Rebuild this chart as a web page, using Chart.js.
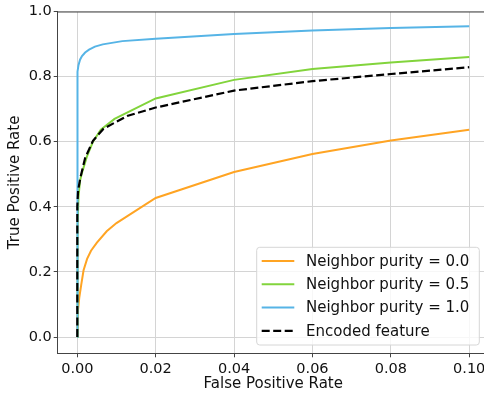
<!DOCTYPE html>
<html>
<head>
<meta charset="utf-8">
<script src="https://cdn.jsdelivr.net/npm/chart.js@4/dist/chart.umd.min.js"></script>
<style>
  html, body { margin: 0; padding: 0; background: #fff; overflow: hidden; }
</style>
</head>
<body>
<canvas id="roc" width="490" height="394"></canvas>
<script>
// ROC curves
const seriesLabels = ["Neighbor purity = 0.0", "Neighbor purity = 0.5", "Neighbor purity = 1.0", "Encoded feature"];

const purity0Fpr = [0, 0.0001, 0.0002, 0.0005, 0.001, 0.0016, 0.0025, 0.0035, 0.005, 0.0075, 0.01, 0.02, 0.04, 0.06, 0.08, 0.10];
const purity0Tpr = [0, 0.06, 0.085, 0.12, 0.16, 0.205, 0.24, 0.265, 0.29, 0.325, 0.35, 0.427, 0.507, 0.562, 0.604, 0.637];

const purity05Fpr = [0, 0.00005, 0.0001, 0.0003, 0.0007, 0.0012, 0.0025, 0.004, 0.006, 0.0095, 0.02, 0.04, 0.06, 0.08, 0.10];
const purity05Tpr = [0, 0.25, 0.34, 0.43, 0.48, 0.505, 0.556, 0.60, 0.637, 0.67, 0.733, 0.79, 0.823, 0.843, 0.86];

const purity1Fpr = [0, 0, 0.0001, 0.0003, 0.0007, 0.0012, 0.002, 0.003, 0.0045, 0.0065, 0.0115, 0.02, 0.04, 0.06, 0.08, 0.10];
const purity1Tpr = [0, 0.78, 0.815, 0.835, 0.852, 0.863, 0.874, 0.883, 0.892, 0.899, 0.909, 0.916, 0.931, 0.942, 0.949, 0.955];

const encodedFpr = [0, 0, 0.0002, 0.0008, 0.002, 0.004, 0.0067, 0.0127, 0.02, 0.04, 0.06, 0.08, 0.10];
const encodedTpr = [0, 0.40, 0.45, 0.49, 0.55, 0.603, 0.64, 0.679, 0.705, 0.757, 0.786, 0.808, 0.829];

const xTicks = [0, 0.02, 0.04, 0.06, 0.08, 0.10];
const yTicks = [0, 0.2, 0.4, 0.6, 0.8, 1.0];

function pts(xs, ys) {
  return xs.map((x, i) => ({x: x, y: ys[i]}));
}

const FONT = "'DejaVu Sans', sans-serif";

// legend box drawn inside the plot, bottom right, like matplotlib
const boxLegend = {
  id: 'boxLegend',
  afterDatasetsDraw(chart) {
    const ctx = chart.ctx;
    const area = chart.chartArea;
    const right = area.right - 9.5, bottom = area.bottom - 8.3;
    const left = right - 222.6, top = bottom - 97.7;
    ctx.save();
    ctx.beginPath();
    ctx.roundRect(left, top, right - left, bottom - top, 3);
    ctx.fillStyle = 'rgba(255,255,255,0.8)';
    ctx.fill();
    ctx.strokeStyle = '#d6d6d6';
    ctx.lineWidth = 1;
    ctx.stroke();
    ctx.font = '15px ' + FONT;
    ctx.textBaseline = 'middle';
    chart.data.datasets.forEach((ds, i) => {
      const y = top + 13.7 + i * 23.3;
      ctx.beginPath();
      ctx.setLineDash(ds.borderDash || []);
      ctx.strokeStyle = ds.borderColor;
      ctx.lineWidth = ds.borderWidth;
      ctx.moveTo(left + 5, y);
      ctx.lineTo(left + 37.6, y);
      ctx.stroke();
      ctx.setLineDash([]);
      ctx.fillStyle = '#111';
      ctx.fillText(ds.label, left + 49.3, y + 1);
    });
    ctx.restore();
  },
  afterDraw(chart) {
    // top spine
    const ctx = chart.ctx, a = chart.chartArea;
    ctx.save();
    ctx.strokeStyle = '#444';
    ctx.lineWidth = 1;
    ctx.beginPath();
    ctx.moveTo(a.left, a.top + 0.5);
    ctx.lineTo(a.right, a.top + 0.5);
    ctx.stroke();
    ctx.restore();
  }
};

new Chart(document.getElementById("roc"), {
  type: 'scatter',
  data: {
    datasets: [
      { label: seriesLabels[0], data: pts(purity0Fpr, purity0Tpr), borderColor: "#ffa423", borderWidth: 2, order: 3 },
      { label: seriesLabels[1], data: pts(purity05Fpr, purity05Tpr), borderColor: "#82d43c", borderWidth: 2, order: 2 },
      { label: seriesLabels[2], data: pts(purity1Fpr, purity1Tpr), borderColor: "#56b4e6", borderWidth: 2, order: 1 },
      { label: seriesLabels[3], data: pts(encodedFpr, encodedTpr), borderColor: "#000000", borderWidth: 2.2, borderDash: [8, 3.5], order: 0 }
    ].map(d => Object.assign(d, { showLine: true, pointRadius: 0, tension: 0, fill: false }))
  },
  options: {
    responsive: false,
    animation: false,
    layout: { padding: { top: 11.5, right: 1.2, left: 0, bottom: 0 } },
    plugins: {
      legend: { display: false },
      tooltip: { enabled: false }
    },
    scales: {
      x: {
        type: 'linear',
        min: -0.005,
        max: 0.105,
        afterBuildTicks: s => { s.ticks = xTicks.map(v => ({value: v})); },
        afterFit: s => { s.height = 40.7; },
        ticks: {
          callback: v => v.toFixed(2),
          font: { family: FONT, size: 14.5 },
          color: '#111',
          padding: 3,
          maxRotation: 0
        },
        grid: { color: '#d4d4d4', lineWidth: 1, tickLength: 4, tickColor: '#444' },
        border: { color: '#444', width: 1 },
        title: {
          display: true,
          text: 'False Positive Rate',
          font: { family: FONT, size: 15 },
          color: '#111',
          padding: { top: 0, bottom: 0.5 }
        }
      },
      y: {
        type: 'linear',
        min: -0.05,
        max: 1.0,
        afterBuildTicks: s => { s.ticks = yTicks.map(v => ({value: v})); },
        afterFit: s => { s.width = 57.7; },
        ticks: {
          callback: v => v.toFixed(1),
          font: { family: FONT, size: 14.5 },
          color: '#111',
          padding: 2
        },
        grid: { color: '#d4d4d4', lineWidth: 1, tickLength: 4, tickColor: '#444' },
        border: { color: '#444', width: 1 },
        title: {
          display: true,
          text: 'True Positive Rate',
          font: { family: FONT, size: 15 },
          color: '#111',
          padding: { top: 6.5, bottom: 0 }
        }
      }
    }
  },
  plugins: [boxLegend]
});
</script>
</body>
</html>
